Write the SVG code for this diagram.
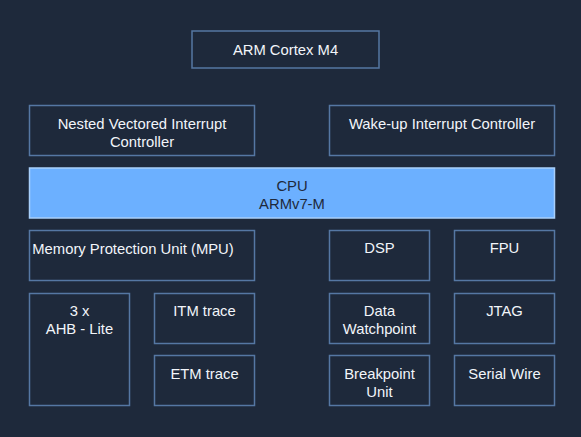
<svg xmlns="http://www.w3.org/2000/svg" width="581" height="437" viewBox="0 0 581 437">
<style>
.b{fill:#1e293b;stroke:#5577a3;stroke-width:1.5}
.c{fill:#6cb0ff;stroke:#a8cffb;stroke-width:1.5}
text{font-family:"Liberation Sans",Arial,sans-serif;font-size:14.8px;fill:#f2f5fa;text-anchor:middle}
.d{fill:#1e293b}
.l{text-anchor:start}
</style>
<rect width="581" height="437" fill="#1e293b"/>
<g id="arm"><rect class="b" x="192" y="31" width="187" height="37"/><text x="285.5" y="55">ARM Cortex M4</text></g>
<g id="nvic"><rect class="b" x="29.5" y="105.5" width="225" height="50"/><text x="142" y="129.3">Nested Vectored Interrupt</text><text x="142" y="147.3">Controller</text></g>
<g id="wic"><rect class="b" x="329.5" y="105.5" width="225" height="50"/><text x="442" y="128.8">Wake-up Interrupt Controller</text></g>
<g id="cpu"><rect class="c" x="29.5" y="168" width="525" height="50"/><text class="d" x="292" y="191">CPU</text><text class="d" x="292" y="209">ARMv7-M</text></g>
<g id="mpu"><rect class="b" x="29.5" y="230.5" width="225" height="50"/><text class="l" x="32.3" y="254.3">Memory Protection Unit (MPU)</text></g>
<g id="dsp"><rect class="b" x="329.5" y="230.5" width="100" height="50"/><text x="379.5" y="253.3">DSP</text></g>
<g id="fpu"><rect class="b" x="454.5" y="230.5" width="100" height="50"/><text x="504.5" y="253.3">FPU</text></g>
<g id="ahb"><rect class="b" x="29.5" y="293.5" width="100" height="112"/><text x="79.5" y="315.7">3 x</text><text x="79.5" y="333.7">AHB - Lite</text></g>
<g id="itm"><rect class="b" x="154.5" y="293.5" width="100" height="50"/><text x="204.5" y="315.7">ITM trace</text></g>
<g id="etm"><rect class="b" x="154.5" y="355.5" width="100" height="50"/><text x="204.5" y="378.7">ETM trace</text></g>
<g id="dwt"><rect class="b" x="329.5" y="293.5" width="100" height="50"/><text x="379.5" y="315.7">Data</text><text x="379.5" y="333.7">Watchpoint</text></g>
<g id="jtag"><rect class="b" x="454.5" y="293.5" width="100" height="50"/><text x="504.5" y="315.7">JTAG</text></g>
<g id="bpu"><rect class="b" x="329.5" y="355.5" width="100" height="50"/><text x="379.5" y="378.8">Breakpoint</text><text x="379.5" y="396.7">Unit</text></g>
<g id="sw"><rect class="b" x="454.5" y="355.5" width="100" height="50"/><text x="504.5" y="378.8">Serial Wire</text></g>
<g id="connectors"></g>
</svg>
